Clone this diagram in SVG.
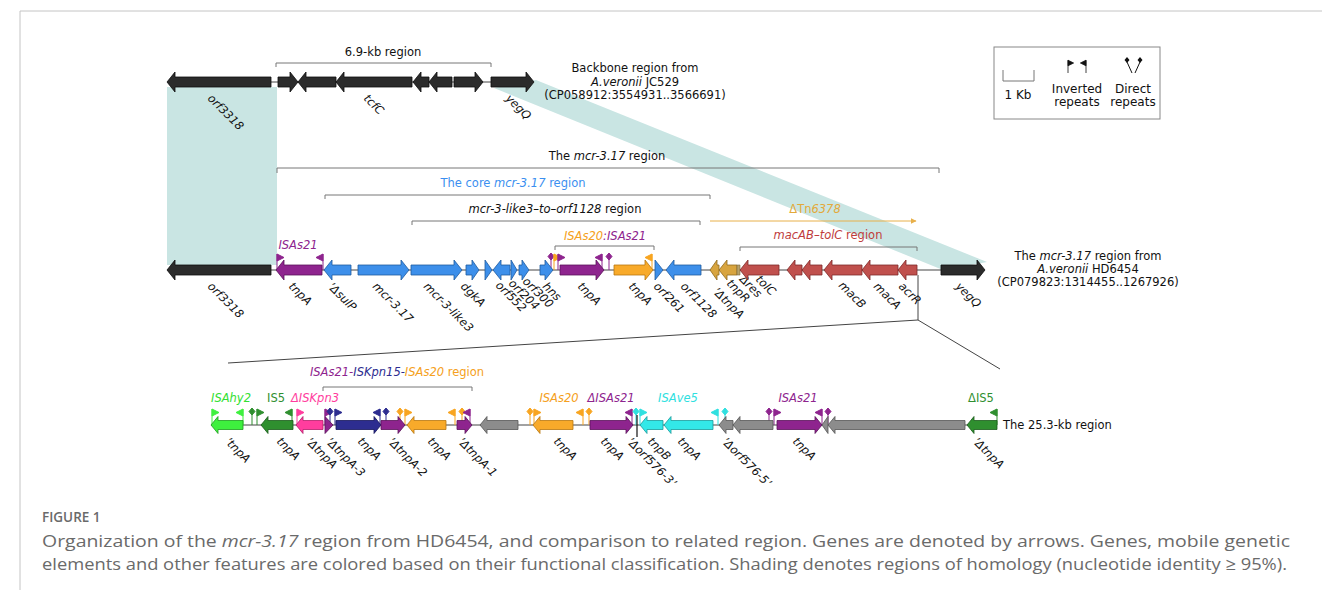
<svg xmlns="http://www.w3.org/2000/svg" xmlns:xlink="http://www.w3.org/1999/xlink" width="1322" height="590" viewBox="0 0 1322 590">
<style>
.t{font-family:"DejaVu Sans",Verdana,sans-serif;font-size:11.5px;fill:#111}
.c{text-anchor:middle}
.i{font-style:italic}
.br{fill:none;stroke:#777;stroke-width:1}
.ln{fill:none;stroke:#444;stroke-width:1}
.blk{fill:#2b2b2b;stroke:#0d0d0d;stroke-width:.8}
.pur{fill:#8e248e;stroke:#5a125a;stroke-width:.8}
.blu{fill:#3d8fea;stroke:#1f5a9e;stroke-width:.8}
.org{fill:#f8aa2a;stroke:#b87710;stroke-width:.8}
.gld{fill:#d8a43e;stroke:#8f6a1e;stroke-width:.8}
.red{fill:#c0504d;stroke:#7d2a28;stroke-width:.8}
.gry{fill:#8c8c8c;stroke:#555;stroke-width:.8}
.lgr{fill:#3ef03e;stroke:#1f9a1f;stroke-width:.8}
.dgr{fill:#2f8f2f;stroke:#1a5a1a;stroke-width:.8}
.pnk{fill:#ff3d9e;stroke:#b0206a;stroke-width:.8}
.nvy{fill:#2d2d90;stroke:#15155a;stroke-width:.8}
.cyn{fill:#33e8e8;stroke:#1a9a9a;stroke-width:.8}
.mp{fill:#8e248e;stroke:#8e248e;stroke-width:1}
.mo{fill:#f8a520;stroke:#f8a520;stroke-width:1}
.mlg{fill:#3ef03e;stroke:#3ef03e;stroke-width:1}
.mdg{fill:#2f8f2f;stroke:#2f8f2f;stroke-width:1}
.mpk{fill:#ff3d9e;stroke:#ff3d9e;stroke-width:1}
.mnv{fill:#2d2d90;stroke:#2d2d90;stroke-width:1}
.mcy{fill:#2fe0e0;stroke:#2fe0e0;stroke-width:1}
.mk{fill:#111;stroke:#111;stroke-width:1}
.cap{font-family:"Open Sans","Liberation Sans",sans-serif;fill:#6a6a6a}
</style>
<defs>
<g id="fR"><path d="M0,0V-16" fill="none"/><path d="M0,-16L7,-12.5L0,-9Z"/></g>
<g id="fL"><path d="M0,0V-16" fill="none"/><path d="M0,-16L-7,-12.5L0,-9Z"/></g>
<g id="dm"><path d="M0,0V-12" fill="none"/><path d="M0,-17L3,-13.5L0,-10L-3,-13.5Z"/></g>
<marker id="ah" viewBox="0 0 10 10" refX="9" refY="5" markerWidth="6" markerHeight="6" orient="auto"><path d="M0,0L10,5L0,10Z" fill="#e8b04a"/></marker>
</defs>
<rect width="1322" height="590" fill="#fff"/>
<path d="M20,590V11H1322" fill="none" stroke="#c4c4c4" stroke-width="1"/>

<g id="connectors">
<polygon points="167,87 277,87 277,265 167,265" fill="#c9e5e3"/>
<polygon points="494,88 536,80 987,262 943,270" fill="#c9e5e3"/>
<path class="ln" d="M918,275V320L228,363M918,320L1000,369"/>
<path class="ln" d="M271,82H491"/>
<path class="ln" d="M271,270H941"/>
<path class="ln" d="M211,425H997"/>
</g>

<g id="legend">
<rect x="994" y="47" width="166" height="72" fill="#fff" stroke="#888"/>
<path class="br" d="M1003,70V81H1034V70"/>
<text class="t c" x="1018" y="99" style="font-size:12px">1 Kb</text>
<use href="#fR" transform="translate(1068,73) scale(0.8)" class="mk"/>
<use href="#fL" transform="translate(1086,73) scale(0.8)" class="mk"/>
<text class="t c" x="1077" y="93" style="font-size:12px">Inverted</text>
<text class="t c" x="1077" y="106" style="font-size:12px">repeats</text>
<path d="M1127,62L1132,73M1140,62L1135,73" fill="none" stroke="#111"/>
<path d="M1127,57L1129.5,60L1127,63L1124.5,60Z M1140,57L1142.5,60L1140,63L1137.5,60Z" fill="#111"/>
<text class="t c" x="1133" y="93" style="font-size:12px">Direct</text>
<text class="t c" x="1133" y="106" style="font-size:12px">repeats</text>
</g>

<g id="backbone-JC529">
<text class="t c" x="383" y="56">6.9-kb region</text>
<path class="br" d="M276,67V63H491V67"/>
<g id="top-orf3318"><path class="blk" d="M271,77H175V72L167,82L175,92V87H271Z"/><text class="t i" transform="translate(207,99) rotate(45)">orf3318</text></g>
<g id="top-g2"><path class="blk" d="M278,77H290V72L298,82L290,92V87H278Z"/></g>
<g id="top-g3"><path class="blk" d="M336,77H306V72L298,82L306,92V87H336Z"/></g>
<g id="top-tcfC"><path class="blk" d="M412,77H344V72L336,82L344,92V87H412Z"/><text class="t i" transform="translate(363,99) rotate(45)">tcfC</text></g>
<g id="top-g5"><path class="blk" d="M429,77H421V72L413,82L421,92V87H429Z"/></g>
<g id="top-g6"><path class="blk" d="M452,77H437V72L429,82L437,92V87H452Z"/></g>
<g id="top-g7"><path class="blk" d="M454,77H475V72L483,82L475,92V87H454Z"/></g>
<g id="top-yegQ"><path class="blk" d="M491,77H526V72L534,82L526,92V87H491Z"/><text class="t i" transform="translate(505,99) rotate(45)">yegQ</text></g>
<text class="t c" x="635" y="72">Backbone region from</text>
<text class="t c" x="635" y="86"><tspan class="i">A.veronii</tspan> JC529</text>
<text class="t c" x="635" y="99">(CP058912:3554931..3566691)</text>
</g>

<g id="mcr-region">
<text class="t c" x="607" y="160">The <tspan class="i">mcr-3.17</tspan> region</text>
<path class="br" d="M277,173V168H939V173"/>
<text class="t c" x="513" y="187" style="fill:#3b8ff0">The core <tspan class="i">mcr-3.17</tspan> region</text>
<path class="br" d="M325,199V195H710V199"/>
<text class="t c" x="555" y="213"><tspan class="i">mcr-3-like3–to–orf1128</tspan> region</text>
<path class="br" d="M412,225V221H700V225"/>
<text class="t c" x="815" y="213" style="fill:#e3a93a">ΔTn<tspan class="i">6378</tspan></text>
<path d="M710,221H916" fill="none" stroke="#e8b04a" stroke-width="1" marker-end="url(#ah)"/>
<text class="t c" x="828" y="239" style="fill:#c03c3c"><tspan class="i">macAB–tolC</tspan> region</text>
<path class="br" d="M740,251V247H917V251"/>
<text class="t c i" x="605" y="240"><tspan style="fill:#f5a020">ISAs20</tspan><tspan style="fill:#8e248e">:ISAs21</tspan></text>
<path class="br" d="M555,250V246H654V250"/>
<text class="t c i" x="298" y="249" style="fill:#8e248e">ISAs21</text>

<use href="#fR" x="277" y="270" class="mp"/>
<use href="#fL" x="323" y="270" class="mp"/>
<use href="#dm" x="551" y="270" class="mp"/>
<use href="#fR" x="554" y="270" class="mo"/>
<use href="#fR" x="558" y="270" class="mp"/>
<use href="#fL" x="602" y="270" class="mp"/>
<use href="#dm" x="609" y="270" class="mp"/>
<use href="#fL" x="652" y="270" class="mo"/>

<g id="m-orf3318"><path class="blk" d="M271,265H175V260L167,270L175,280V275H271Z"/><text class="t i" transform="translate(207,287) rotate(45)">orf3318</text></g>
<g id="m-tnpA1"><path class="pur" d="M322,265H284V260L276,270L284,280V275H322Z"/><text class="t i" transform="translate(288,287) rotate(45)">tnpA</text></g>
<g id="m-sulP"><path class="blu" d="M351,265H332V260L324,270L332,280V275H351Z"/><text class="t i" transform="translate(327,287) rotate(45)">’ΔsulP</text></g>
<g id="m-mcr317"><path class="blu" d="M358,265H401V260L409,270L401,280V275H358Z"/><text class="t i" transform="translate(372,287) rotate(45)">mcr-3.17</text></g>
<g id="m-mcr3like3"><path class="blu" d="M411,265H454V260L462,270L454,280V275H411Z"/><text class="t i" transform="translate(423,287) rotate(45)">mcr-3-like3</text></g>
<g id="m-dgkA"><path class="blu" d="M466,265H472V260L479,270L472,280V275H466Z"/><text class="t i" transform="translate(460,287) rotate(45)">dgkA</text></g>
<g id="m-small"><path class="blu" d="M485,260L492,270L485,280Z"/></g>
<g id="m-orf552"><path class="blu" d="M510,265H501V260L493,270L501,280V275H510Z"/><text class="t i" transform="translate(495,286) rotate(45)">orf552</text></g>
<g id="m-orf204"><path class="blu" d="M511,260L517,270L511,280Z"/><text class="t i" transform="translate(508,284) rotate(45)">orf204</text></g>
<g id="m-orf300"><path class="blu" d="M519,265H522V260L529,270L522,280V275H519Z"/><text class="t i" transform="translate(522,282) rotate(45)">orf300</text></g>
<g id="m-hns"><path class="blu" d="M540,265H545V260L553,270L545,280V275H540Z"/><text class="t i" transform="translate(542,287) rotate(45)">hns</text></g>
<g id="m-tnpA2"><path class="pur" d="M560,265H596V260L604,270L596,280V275H560Z"/><text class="t i" transform="translate(577,287) rotate(45)">tnpA</text></g>
<g id="m-tnpA3"><path class="org" d="M614,265H645V260L653,270L645,280V275H614Z"/><text class="t i" transform="translate(628,287) rotate(45)">tnpA</text></g>
<g id="m-orf261"><path class="blu" d="M655,260L663,270L655,280Z"/><text class="t i" transform="translate(653,287) rotate(45)">orf261</text></g>
<g id="m-orf1128"><path class="blu" d="M701,265H674V260L666,270L674,280V275H701Z"/><text class="t i" transform="translate(680,287) rotate(45)">orf1128</text></g>
<g id="m-dtnpA"><path class="gld" d="M719,265H717V260L710,270L717,280V275H719Z"/><text class="t i" transform="translate(712,292) rotate(45)">’ΔtnpA</text></g>
<g id="m-tnpR"><path class="gld" d="M737,265H727V260L719,270L727,280V275H737Z"/><text class="t i" transform="translate(726,284) rotate(45)">tnpR</text></g>
<g id="m-dres"><path d="M737,265H740V275H737Z" fill="#b8a26a" stroke="#7a6a40" stroke-width=".6"/><text class="t i" transform="translate(739,280) rotate(45)">Δres</text></g>
<g id="m-tolC"><path class="red" d="M779,265H748V260L740,270L748,280V275H779Z"/><text class="t i" transform="translate(755,280) rotate(45)">tolC</text></g>
<g id="m-r2"><path class="red" d="M802,265H795V260L787,270L795,280V275H802Z"/></g>
<g id="m-r3"><path class="red" d="M822,265H810V260L802,270L810,280V275H822Z"/></g>
<g id="m-macB"><path class="red" d="M862,265H832V260L824,270L832,280V275H862Z"/><text class="t i" transform="translate(838,286) rotate(45)">macB</text></g>
<g id="m-macA"><path class="red" d="M898,265H870V260L862,270L870,280V275H898Z"/><text class="t i" transform="translate(873,287) rotate(45)">macA</text></g>
<g id="m-acrR"><path class="red" d="M917,265H906V260L898,270L906,280V275H917Z"/><text class="t i" transform="translate(898,287) rotate(45)">acrR</text></g>
<g id="m-yegQ"><path class="blk" d="M941,265H977V260L985,270L977,280V275H941Z"/><text class="t i" transform="translate(955,287) rotate(45)">yegQ</text></g>
<text class="t c" x="1088" y="260">The <tspan class="i">mcr-3.17</tspan> region from</text>
<text class="t c" x="1088" y="273"><tspan class="i">A.veronii</tspan> HD6454</text>
<text class="t c" x="1088" y="286">(CP079823:1314455..1267926)</text>
</g>

<g id="region-25kb">
<text class="t c i" x="397" y="376"><tspan style="fill:#8e248e">ISAs21-</tspan><tspan style="fill:#2d2d90">ISKpn15-</tspan><tspan style="fill:#f5a020">ISAs20 <tspan style="font-style:normal">region</tspan></tspan></text>
<path class="br" d="M323,391V387H472V391"/>
<text class="t c i" x="231" y="402" style="fill:#33e033">ISAhy2</text>
<text class="t c" x="276" y="402" style="fill:#2f8f2f">IS5</text>
<text class="t c i" x="315" y="402" style="fill:#ff3d9e">ΔISKpn3</text>
<text class="t c i" x="559" y="402" style="fill:#f5a020">ISAs20</text>
<text class="t c i" x="611" y="402" style="fill:#8e248e">ΔISAs21</text>
<text class="t c i" x="678" y="402" style="fill:#2fe0e0">ISAve5</text>
<text class="t c i" x="798" y="402" style="fill:#8e248e">ISAs21</text>
<text class="t c" x="981" y="402" style="fill:#2f8f2f">ΔIS5</text>

<use href="#fR" x="212" y="425" class="mlg"/>
<use href="#fL" x="243" y="425" class="mlg"/>
<use href="#dm" x="252" y="425" class="mdg"/>
<use href="#fR" x="257" y="425" class="mdg"/>
<use href="#fL" x="292" y="425" class="mdg"/>
<use href="#fR" x="297" y="425" class="mpk"/>
<use href="#fR" x="325" y="425" class="mp"/>
<use href="#dm" x="330" y="425" class="mnv"/>
<use href="#fR" x="335" y="425" class="mnv"/>
<use href="#fL" x="380" y="425" class="mnv"/>
<use href="#dm" x="386" y="425" class="mnv"/>
<use href="#dm" x="400" y="425" class="mo"/>
<use href="#fR" x="405" y="425" class="mo"/>
<use href="#fL" x="455" y="425" class="mo"/>
<use href="#dm" x="462" y="425" class="mo"/>
<use href="#fL" x="470" y="425" class="mp"/>
<use href="#dm" x="530" y="425" class="mo"/>
<use href="#fR" x="534" y="425" class="mo"/>
<use href="#fL" x="583" y="425" class="mo"/>
<use href="#dm" x="589" y="425" class="mo"/>
<use href="#fL" x="632" y="425" class="mp"/>
<use href="#dm" x="636" y="425" class="mcy"/>
<use href="#fR" x="640" y="425" class="mcy"/>
<use href="#fL" x="718" y="425" class="mcy"/>
<use href="#dm" x="725" y="425" class="mcy"/>
<use href="#dm" x="769" y="425" class="mp"/>
<use href="#fR" x="774" y="425" class="mp"/>
<use href="#fL" x="822" y="425" class="mp"/>
<use href="#dm" x="828" y="425" class="mp"/>
<use href="#fL" x="997" y="425" class="mdg"/>

<g id="b-tnpA1"><path class="lgr" d="M243,420.5H218V416.5L211,425L218,433.5V429.5H243Z"/><text class="t i" transform="translate(224,442) rotate(45)">’tnpA</text></g>
<g id="b-tnpA2"><path class="dgr" d="M293,420.5H268V416.5L261,425L268,433.5V429.5H293Z"/><text class="t i" transform="translate(276,442) rotate(45)">tnpA</text></g>
<g id="b-dtnpA"><path class="pnk" d="M323,420.5H303V416.5L296,425L303,433.5V429.5H323Z"/><text class="t i" transform="translate(305,442) rotate(45)">’ΔtnpA</text></g>
<g id="b-dtnpA3"><path class="pur" d="M325,416.5L333,425L325,433.5Z"/><text class="t i" transform="translate(325,442) rotate(45)">’ΔtnpA-3</text></g>
<g id="b-tnpA3"><path class="nvy" d="M336,420.5H374V416.5L381,425L374,433.5V429.5H336Z"/><text class="t i" transform="translate(357,442) rotate(45)">tnpA</text></g>
<g id="b-dtnpA2"><path class="pur" d="M381,420.5H398V416.5L405,425L398,433.5V429.5H381Z"/><text class="t i" transform="translate(387,442) rotate(45)">’ΔtnpA-2</text></g>
<g id="b-tnpA4"><path class="org" d="M446,420.5H414V416.5L407,425L414,433.5V429.5H446Z"/><text class="t i" transform="translate(427,442) rotate(45)">tnpA</text></g>
<g id="b-dtnpA1"><path class="pur" d="M457,420.5H465V416.5L472,425L465,433.5V429.5H457Z"/><text class="t i" transform="translate(457,442) rotate(45)">’ΔtnpA-1</text></g>
<g id="b-gray1"><path class="gry" d="M518,420.5H487V416.5L480,425L487,433.5V429.5H518Z"/></g>
<g id="b-tnpA5"><path class="org" d="M573,420.5H540V416.5L533,425L540,433.5V429.5H573Z"/><text class="t i" transform="translate(553,442) rotate(45)">tnpA</text></g>
<g id="b-tnpA6"><path class="pur" d="M590,420.5H626V416.5L633,425L626,433.5V429.5H590Z"/><text class="t i" transform="translate(600,442) rotate(45)">tnpA</text></g>
<path d="M637,415V437" stroke="#111" stroke-width="1.2"/>
<g id="b-orf576-3"><text class="t i" transform="translate(626,442) rotate(45)">’Δorf576-3’</text></g>
<g id="b-tnpB"><path class="cyn" d="M663,420.5H647V416.5L640,425L647,433.5V429.5H663Z"/><text class="t i" transform="translate(647,442) rotate(45)">tnpB</text></g>
<g id="b-tnpA7"><path class="cyn" d="M713,420.5H671V416.5L664,425L671,433.5V429.5H713Z"/><text class="t i" transform="translate(677,442) rotate(45)">tnpA</text></g>
<g id="b-orf576-5"><path class="gry" d="M733,420.5H726V416.5L719,425L726,433.5V429.5H733Z"/><text class="t i" transform="translate(721,442) rotate(45)">’Δorf576-5’</text></g>
<g id="b-gray2"><path class="gry" d="M773,420.5H740V416.5L733,425L740,433.5V429.5H773Z"/></g>
<g id="b-tnpA8"><path class="pur" d="M777,420.5H815V416.5L822,425L815,433.5V429.5H777Z"/><text class="t i" transform="translate(792,442) rotate(45)">tnpA</text></g>
<g id="b-gray3"><path class="gry" d="M828,416.5L822,425L828,433.5Z"/></g>
<g id="b-gray4"><path class="gry" d="M965,420.5H835V416.5L828,425L835,433.5V429.5H965Z"/></g>
<g id="b-dtnpA5"><path class="dgr" d="M997,420.5H974V416.5L967,425L974,433.5V429.5H997Z"/><text class="t i" transform="translate(972,442) rotate(45)">’ΔtnpA</text></g>
<text class="t" x="1003" y="429">The 25.3-kb region</text>
</g>

<g id="caption">
<text class="cap" x="42" y="522" font-size="13.5" font-weight="600">FIGURE 1</text>
<text class="cap" x="42" y="547" font-size="17" textLength="1248" lengthAdjust="spacingAndGlyphs">Organization of the <tspan font-style="italic">mcr-3.17</tspan> region from HD6454, and comparison to related region. Genes are denoted by arrows. Genes, mobile genetic</text>
<text class="cap" x="42" y="570" font-size="17" textLength="1245" lengthAdjust="spacingAndGlyphs">elements and other features are colored based on their functional classification. Shading denotes regions of homology (nucleotide identity ≥ 95%).</text>
</g>
</svg>
